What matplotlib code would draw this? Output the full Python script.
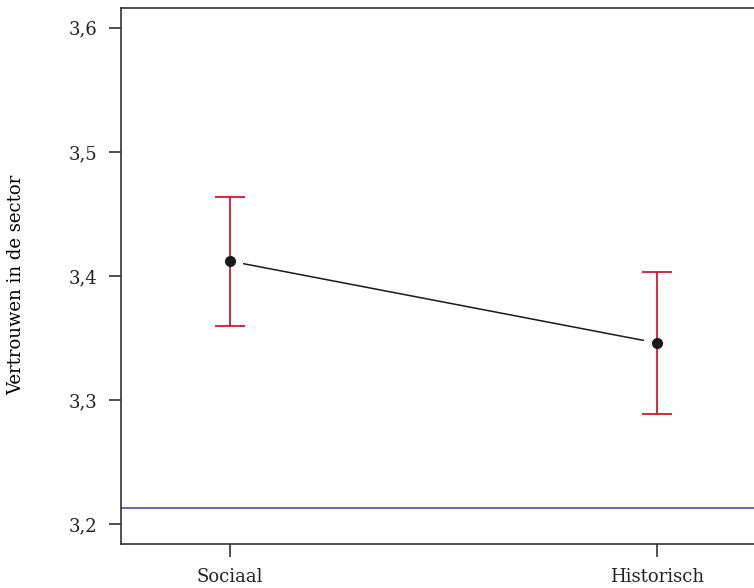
import matplotlib
matplotlib.use('Agg')
import matplotlib.pyplot as plt

# Data
groups = ['Sociaal', 'Historisch']
means = [3.412, 3.346]
upper = [3.464, 3.403]
lower = [3.360, 3.289]
reference_line = 3.213
y_ticks = [3.2, 3.3, 3.4, 3.5, 3.6]
y_tick_labels = ['3,2', '3,3', '3,4', '3,5', '3,6']

plt.rcParams['font.family'] = ['DejaVu Serif']
plt.rcParams['font.size'] = 13

fig = plt.figure(figsize=(7.54, 5.88), dpi=100)
# axes run past the right edge of the figure, as in the original
ax = fig.add_axes([121 / 754, 44 / 588, 645 / 754, 536 / 588])

x = list(range(1, len(groups) + 1))
err_low = [m - l for m, l in zip(means, lower)]
err_high = [u - m for m, u in zip(means, upper)]

# Confidence intervals
ax.errorbar(x, means, yerr=[err_low, err_high], fmt='none',
            ecolor='#d8001c', elinewidth=1.2, capsize=10.5, capthick=1.2,
            zorder=2)

# Connecting line with gaps around the points
ax.annotate('', xy=(x[1], means[1]), xytext=(x[0], means[0]),
            arrowprops=dict(arrowstyle='-', color='#1a1a1a', lw=1.1,
                            shrinkA=10, shrinkB=10))

# Means
ax.plot(x, means, linestyle='none', marker='o', markersize=7,
        color='#1a1a1a', zorder=3)

# Reference line
ax.axhline(reference_line, color='#3c40a0', linewidth=1.1, zorder=1)

ax.set_xlim(0.745, 2.255)
ax.set_ylim(3.184, 3.616)
ax.set_xticks(x)
ax.set_xticklabels(groups)
ax.set_yticks(y_ticks)
ax.set_yticklabels(y_tick_labels)
ax.set_ylabel('Vertrouwen in de sector')
ax.yaxis.set_label_coords(-0.149, 0.483)

for side in ['left', 'bottom', 'top', 'right']:
    ax.spines[side].set_color('#333333')
    ax.spines[side].set_linewidth(1.2)
ax.tick_params(axis='both', length=9, width=1.2, color='#333333',
               labelcolor='#222222', pad=8)

fig.savefig('out.png', dpi=100)
